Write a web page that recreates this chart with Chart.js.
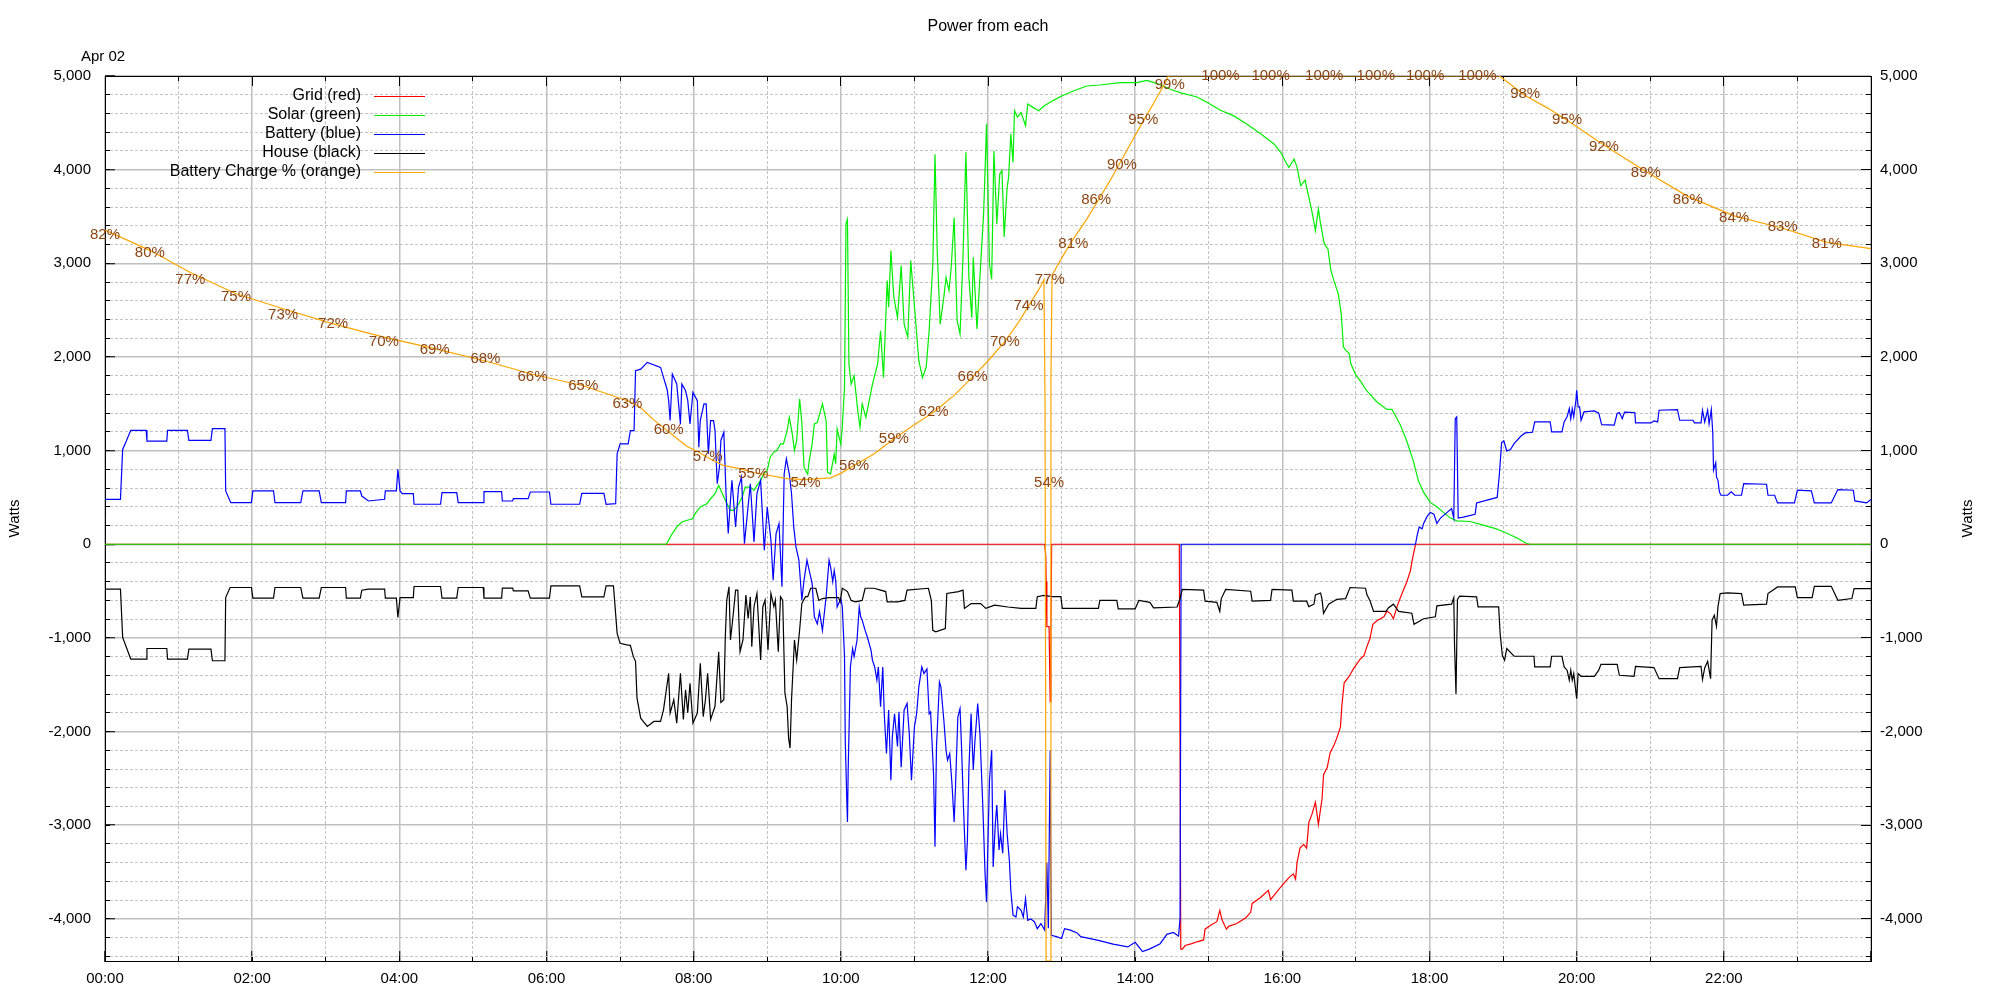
<!DOCTYPE html>
<html>
<head>
<meta charset="utf-8">
<title>Power from each</title>
<script src="https://cdn.jsdelivr.net/npm/chart.js@4.4.1/dist/chart.umd.min.js"></script>
<style>
  html, body { margin: 0; padding: 0; background: #fff; }
</style>
</head>
<body>
<canvas id="chart" width="2000" height="1000"></canvas>
<script>
// x values are hours since midnight (Apr 02), y values are watts
const gridPoints = [
  [0, 0], [12.77, 0], [12.785, -120], [12.79, -400], [12.80, -880], [12.83, -880], [12.845, -1680],
  [12.855, -900], [12.865, 0], [14.60, 0], [14.62, -4324], [14.64, -4324], [14.68, -4285], [14.77, -4265],
  [14.84, -4245], [14.93, -4225], [14.95, -4110], [15.02, -4070], [15.11, -4030], [15.15, -3910],
  [15.18, -4010], [15.24, -4110], [15.27, -4080], [15.38, -4050], [15.50, -3990], [15.57, -3930],
  [15.59, -3835], [15.70, -3775], [15.81, -3695], [15.84, -3795], [15.90, -3735], [16.0, -3640],
  [16.09, -3560], [16.15, -3520], [16.18, -3575], [16.20, -3400], [16.24, -3245], [16.29, -3205],
  [16.33, -3245], [16.36, -2970], [16.40, -2890], [16.45, -2755], [16.49, -2990], [16.54, -2715],
  [16.56, -2460], [16.61, -2385], [16.65, -2225], [16.70, -2150], [16.74, -2070], [16.79, -1950],
  [16.81, -1715], [16.84, -1480], [16.90, -1420], [16.97, -1325], [17.06, -1225], [17.11, -1190],
  [17.15, -1090], [17.19, -1010], [17.23, -855], [17.29, -815], [17.38, -775], [17.42, -715],
  [17.47, -740], [17.51, -795], [17.57, -640], [17.60, -580], [17.65, -480], [17.69, -405],
  [17.74, -285], [17.77, -150], [17.81, 0], [24, 0]
];

const solarPoints = [
  [0, 0], [7.62, 0], [7.64, 15], [7.71, 114], [7.77, 185], [7.84, 238], [7.91, 256], [7.98, 270],
  [8.02, 327], [8.09, 398], [8.18, 433], [8.23, 486], [8.29, 540], [8.34, 628], [8.39, 540], [8.43, 470],
  [8.50, 362], [8.54, 362], [8.59, 398], [8.66, 504], [8.70, 611], [8.77, 611], [8.82, 575], [8.86, 628],
  [8.91, 682], [8.95, 753], [9.0, 788], [9.04, 930], [9.09, 983], [9.13, 1001], [9.18, 1072], [9.22, 1072],
  [9.27, 1214], [9.30, 1356], [9.34, 1179], [9.37, 1001], [9.40, 1108], [9.44, 1551], [9.47, 1300],
  [9.50, 820], [9.55, 750], [9.57, 890], [9.61, 1070], [9.64, 1285], [9.68, 1300], [9.75, 1500],
  [9.80, 1320], [9.82, 770], [9.86, 750], [9.91, 960], [9.93, 860], [9.95, 1230], [10.0, 1070],
  [10.02, 1250], [10.05, 1675], [10.07, 3420], [10.09, 3470], [10.11, 1925], [10.14, 1710], [10.18, 1800],
  [10.23, 1425], [10.26, 1250], [10.29, 1500], [10.34, 1355], [10.39, 1550], [10.43, 1710], [10.50, 1925],
  [10.54, 2280], [10.58, 1780], [10.63, 2815], [10.65, 2530], [10.68, 3135], [10.72, 2640], [10.77, 2420],
  [10.82, 2975], [10.86, 2350], [10.91, 2210], [10.95, 3030], [11.02, 2350], [11.06, 1960], [11.11, 1780],
  [11.16, 1890], [11.20, 2280], [11.25, 2990], [11.28, 4165], [11.31, 3135], [11.35, 2350], [11.40, 2640],
  [11.43, 2850], [11.47, 2710], [11.50, 2955], [11.54, 3490], [11.58, 2390], [11.62, 2245], [11.66, 3065],
  [11.70, 4185], [11.74, 2850], [11.78, 2420], [11.80, 3065], [11.85, 2300], [11.89, 2850], [11.94, 3525],
  [11.96, 3990], [11.98, 4490], [12.02, 2990], [12.05, 2830], [12.08, 4200], [12.12, 3420], [12.16, 3955],
  [12.19, 3990], [12.22, 3280], [12.26, 3810], [12.28, 3920], [12.31, 4380], [12.34, 4080], [12.36, 4630],
  [12.40, 4560], [12.45, 4610], [12.51, 4470], [12.54, 4700], [12.61, 4665], [12.69, 4630], [12.76, 4680],
  [12.89, 4740], [13.0, 4787], [13.16, 4840], [13.34, 4893], [13.52, 4904], [13.80, 4930], [14.02, 4930],
  [14.16, 4954], [14.30, 4918], [14.48, 4858], [14.61, 4822], [14.84, 4776], [14.98, 4716], [15.16, 4634],
  [15.34, 4574], [15.52, 4485], [15.70, 4386], [15.89, 4272], [15.98, 4183], [16.05, 4077], [16.09, 4024],
  [16.16, 4112], [16.20, 4024], [16.25, 3829], [16.31, 3889], [16.34, 3775], [16.40, 3562], [16.45, 3349],
  [16.49, 3580], [16.52, 3420], [16.57, 3207], [16.62, 3154], [16.66, 2923], [16.70, 2817], [16.76, 2675],
  [16.80, 2462], [16.83, 2107], [16.86, 2072], [16.91, 2036], [16.93, 1929], [17.0, 1805], [17.07, 1734],
  [17.14, 1645], [17.29, 1517], [17.42, 1440], [17.49, 1440], [17.56, 1340], [17.60, 1280], [17.69, 1105],
  [17.78, 890], [17.85, 674], [17.92, 557], [18.01, 447], [18.10, 400], [18.19, 340], [18.28, 282],
  [18.37, 250], [18.55, 243], [18.73, 204], [18.91, 165], [19.05, 118], [19.19, 67], [19.32, 8],
  [19.37, 0], [24, 0]
];

const batteryPoints = [
  [0, 480], [0.21, 480], [0.24, 1013], [0.29, 1102], [0.35, 1216], [0.56, 1216], [0.57, 1102], [0.84, 1102],
  [0.85, 1216], [1.12, 1216], [1.14, 1109], [1.44, 1109], [1.46, 1234], [1.63, 1234], [1.64, 569],
  [1.71, 444], [1.99, 444], [2.01, 569], [2.29, 569], [2.31, 444], [2.66, 444], [2.69, 569], [2.91, 569],
  [2.94, 444], [3.27, 444], [3.28, 569], [3.47, 569], [3.49, 515], [3.58, 462], [3.80, 480], [3.81, 569],
  [3.96, 569], [3.98, 800], [4.01, 569], [4.04, 540], [4.19, 540], [4.20, 427], [4.56, 427], [4.58, 551],
  [4.78, 551], [4.80, 444], [5.14, 444], [5.15, 562], [5.39, 562], [5.40, 462], [5.54, 462], [5.55, 487],
  [5.75, 487], [5.78, 558], [6.04, 558], [6.06, 427], [6.45, 427], [6.48, 544], [6.78, 544], [6.81, 427],
  [6.94, 433], [6.96, 966], [7.0, 1072], [7.11, 1072], [7.14, 1214], [7.19, 1214], [7.21, 1853],
  [7.28, 1870], [7.37, 1942], [7.55, 1889], [7.59, 1782], [7.64, 1650], [7.66, 1534], [7.68, 1321],
  [7.71, 1818], [7.77, 1711], [7.82, 1285], [7.84, 1711], [7.89, 1640], [7.92, 1534], [7.95, 1285],
  [7.99, 1622], [8.05, 1534], [8.07, 1037], [8.09, 1321], [8.14, 1498], [8.17, 1498], [8.20, 966],
  [8.23, 1321], [8.27, 1321], [8.29, 1214], [8.32, 646], [8.35, 824], [8.37, 1108], [8.41, 1196],
  [8.44, 540], [8.47, 114], [8.50, 470], [8.52, 682], [8.57, 185], [8.61, 610], [8.65, 717], [8.69, 7],
  [8.73, 327], [8.77, 646], [8.82, 25], [8.86, 540], [8.91, 682], [8.96, -64], [9.0, 398], [9.05, 43],
  [9.08, -383], [9.12, 114], [9.16, 220], [9.20, -454], [9.23, 753], [9.26, 912], [9.30, 750], [9.33, 540],
  [9.36, 185], [9.39, -28], [9.43, -170], [9.47, -596], [9.50, -383], [9.54, -170], [9.57, -280],
  [9.61, -420], [9.64, -775], [9.68, -850], [9.71, -720], [9.75, -920], [9.80, -560], [9.84, -170],
  [9.86, -240], [9.89, -400], [9.91, -280], [9.93, -385], [9.95, -670], [10.0, -580], [10.02, -670],
  [10.05, -1200], [10.06, -2090], [10.08, -2700], [10.09, -2965], [10.10, -2410], [10.13, -1310],
  [10.16, -1115], [10.18, -1200], [10.22, -1025], [10.25, -670], [10.27, -775], [10.29, -810], [10.33, -920],
  [10.36, -990], [10.41, -1130], [10.43, -1240], [10.46, -1310], [10.49, -1450], [10.51, -1310],
  [10.54, -1735], [10.57, -1310], [10.59, -1810], [10.62, -2235], [10.65, -1770], [10.68, -2520],
  [10.70, -2055], [10.73, -1810], [10.77, -2160], [10.79, -1790], [10.82, -2380], [10.86, -1770],
  [10.90, -1700], [10.93, -2020], [10.96, -2520], [11.0, -1950], [11.03, -1810], [11.06, -1525],
  [11.10, -1310], [11.13, -1380], [11.17, -1330], [11.20, -1810], [11.22, -1790], [11.26, -2450],
  [11.28, -3230], [11.30, -2160], [11.34, -1470], [11.36, -1525], [11.40, -1880], [11.43, -2200],
  [11.45, -2305], [11.48, -2235], [11.51, -2555], [11.54, -2965], [11.56, -2555], [11.59, -1845],
  [11.62, -1755], [11.64, -2160], [11.67, -2875], [11.70, -3480], [11.72, -3160], [11.74, -2410],
  [11.77, -1810], [11.80, -2410], [11.82, -2130], [11.86, -1700], [11.89, -2020], [11.93, -2805],
  [11.96, -3515], [11.98, -3820], [12.02, -2520], [12.05, -2200], [12.07, -3445], [12.10, -2980],
  [12.12, -2785], [12.15, -3265], [12.17, -3090], [12.20, -3300], [12.23, -2625], [12.26, -3090],
  [12.29, -3375], [12.31, -3695], [12.34, -3960], [12.38, -3980], [12.40, -3870], [12.45, -3910],
  [12.48, -3980], [12.51, -3785], [12.54, -4015], [12.58, -4000], [12.63, -4030], [12.67, -4105],
  [12.72, -4050], [12.77, -4120], [12.80, -3400], [12.82, -4100], [12.845, -2200], [12.86, -4175],
  [12.93, -4190], [13.0, -4210], [13.04, -4105], [13.12, -4120], [13.21, -4150], [13.26, -4190],
  [13.5, -4230], [13.7, -4270], [13.9, -4300], [14.0, -4250], [14.1, -4350], [14.2, -4320], [14.34, -4265],
  [14.43, -4165], [14.52, -4145], [14.59, -4185], [14.61, -3990], [14.625, 0], [17.81, 0], [17.83, 86],
  [17.86, 184], [17.90, 165], [17.92, 223], [17.97, 300], [18.01, 340], [18.06, 320], [18.10, 223],
  [18.15, 280], [18.24, 340], [18.30, 380], [18.33, 280], [18.35, 1340], [18.37, 1360], [18.39, 280],
  [18.46, 290], [18.62, 320], [18.64, 440], [18.82, 480], [18.92, 500], [18.95, 750], [18.98, 1085],
  [19.01, 1105], [19.05, 997], [19.10, 1011], [19.15, 1075], [19.24, 1153], [19.30, 1189], [19.40, 1196],
  [19.43, 1307], [19.64, 1307], [19.66, 1200], [19.80, 1200], [19.83, 1307], [19.87, 1360], [19.90, 1449],
  [19.92, 1340], [19.94, 1449], [19.96, 1360], [19.99, 1538], [20.0, 1645], [20.02, 1467], [20.04, 1467],
  [20.06, 1324], [20.10, 1413], [20.24, 1424], [20.30, 1400], [20.34, 1278], [20.51, 1271], [20.55, 1396],
  [20.58, 1406], [20.62, 1340], [20.65, 1410], [20.79, 1406], [20.80, 1296], [21.01, 1296], [21.05, 1317],
  [21.10, 1306], [21.12, 1431], [21.37, 1438], [21.40, 1324], [21.58, 1324], [21.60, 1296], [21.69, 1296],
  [21.71, 1431], [21.74, 1306], [21.78, 1431], [21.80, 1285], [21.83, 1438], [21.85, 1182], [21.86, 790],
  [21.89, 869], [21.90, 719], [21.92, 683], [21.94, 559], [21.96, 523], [22.05, 523], [22.10, 559],
  [22.15, 523], [22.24, 523], [22.27, 648], [22.58, 641], [22.60, 523], [22.69, 523], [22.73, 441],
  [22.96, 441], [23.0, 577], [23.19, 570], [23.23, 441], [23.46, 441], [23.50, 505], [23.55, 584],
  [23.76, 577], [23.78, 463], [23.94, 441], [24.0, 477]
];

const housePoints = [
  [0, -480], [0.21, -480], [0.24, -995], [0.29, -1100], [0.35, -1226], [0.56, -1226], [0.57, -1113],
  [0.84, -1113], [0.85, -1226], [1.12, -1226], [1.14, -1120], [1.44, -1120], [1.46, -1244], [1.63, -1244],
  [1.64, -569], [1.70, -462], [1.99, -462], [2.01, -576], [2.29, -576], [2.31, -462], [2.66, -462],
  [2.69, -576], [2.91, -576], [2.94, -462], [3.27, -462], [3.28, -576], [3.47, -576], [3.49, -491],
  [3.58, -480], [3.80, -480], [3.81, -576], [3.96, -576], [3.98, -782], [4.01, -569], [4.19, -569],
  [4.20, -451], [4.56, -451], [4.58, -576], [4.78, -576], [4.80, -462], [5.14, -462], [5.15, -576],
  [5.39, -576], [5.40, -469], [5.54, -469], [5.55, -498], [5.75, -498], [5.78, -576], [6.04, -576],
  [6.06, -444], [6.45, -444], [6.48, -562], [6.78, -562], [6.81, -444], [6.91, -444], [6.96, -951],
  [7.0, -1058], [7.09, -1075], [7.14, -1080], [7.18, -1200], [7.21, -1250], [7.23, -1643], [7.28, -1857],
  [7.37, -1945], [7.46, -1892], [7.55, -1892], [7.59, -1768], [7.66, -1377], [7.68, -1803], [7.73, -1661],
  [7.77, -1910], [7.82, -1377], [7.86, -1870], [7.89, -1555], [7.92, -1800], [7.95, -1484], [7.99, -1910],
  [8.05, -1803], [8.09, -1271], [8.13, -1840], [8.16, -1661], [8.19, -1377], [8.23, -1870], [8.29, -1730],
  [8.34, -1147], [8.37, -1690], [8.41, -1661], [8.43, -987], [8.45, -596], [8.48, -454], [8.50, -1022],
  [8.53, -809], [8.57, -490], [8.60, -490], [8.63, -1147], [8.67, -1022], [8.71, -543], [8.74, -792],
  [8.77, -560], [8.79, -1094], [8.82, -667], [8.86, -525], [8.91, -1235], [8.94, -667], [8.97, -596],
  [9.01, -1129], [9.05, -525], [9.09, -667], [9.11, -596], [9.15, -1147], [9.18, -560], [9.21, -596],
  [9.24, -1590], [9.27, -1730], [9.29, -2070], [9.31, -2176], [9.33, -1661], [9.37, -1022], [9.40, -1235],
  [9.44, -916], [9.47, -632], [9.52, -560], [9.55, -560], [9.59, -470], [9.66, -470], [9.70, -600],
  [9.75, -580], [9.84, -570], [9.97, -570], [9.99, -615], [10.02, -470], [10.09, -505], [10.14, -600],
  [10.20, -615], [10.29, -600], [10.33, -470], [10.45, -470], [10.54, -490], [10.61, -505], [10.63, -615],
  [10.77, -615], [10.87, -600], [10.90, -490], [11.19, -470], [11.23, -600], [11.25, -920], [11.29, -935],
  [11.42, -900], [11.44, -525], [11.60, -505], [11.66, -490], [11.68, -685], [11.77, -633], [11.90, -633],
  [11.97, -685], [12.09, -650], [12.27, -670], [12.45, -685], [12.65, -685], [12.67, -560], [12.76, -545],
  [12.87, -560], [12.99, -560], [13.01, -685], [13.24, -685], [13.50, -685], [13.52, -600], [13.75, -600],
  [13.77, -690], [14.0, -690], [14.05, -600], [14.20, -620], [14.25, -680], [14.57, -670], [14.61, -580],
  [14.64, -482], [14.93, -490], [14.95, -608], [15.11, -620], [15.15, -717], [15.17, -580], [15.23, -482],
  [15.57, -502], [15.59, -608], [15.84, -600], [15.86, -482], [16.13, -490], [16.15, -608], [16.33, -608],
  [16.36, -666], [16.43, -640], [16.45, -540], [16.52, -520], [16.54, -588], [16.56, -737], [16.63, -640],
  [16.74, -588], [16.86, -580], [16.92, -462], [17.13, -470], [17.15, -540], [17.19, -600], [17.24, -717],
  [17.41, -717], [17.44, -680], [17.51, -640], [17.58, -717], [17.76, -737], [17.79, -855], [17.92, -795],
  [18.08, -775], [18.10, -658], [18.30, -640], [18.33, -570], [18.34, -1070], [18.36, -1600], [18.38, -590],
  [18.41, -553], [18.57, -560], [18.64, -562], [18.66, -669], [18.94, -669], [18.96, -954], [18.99, -1185],
  [19.02, -1239], [19.05, -1114], [19.15, -1196], [19.42, -1196], [19.43, -1310], [19.64, -1310],
  [19.66, -1196], [19.80, -1196], [19.83, -1310], [19.87, -1345], [19.90, -1452], [19.92, -1345],
  [19.94, -1452], [19.96, -1381], [20.0, -1648], [20.02, -1381], [20.06, -1410], [20.24, -1410],
  [20.30, -1345], [20.33, -1282], [20.55, -1282], [20.58, -1399], [20.78, -1410], [20.80, -1303],
  [21.05, -1317], [21.12, -1435], [21.37, -1435], [21.40, -1317], [21.69, -1303], [21.71, -1445],
  [21.74, -1321], [21.78, -1250], [21.82, -1435], [21.84, -812], [21.87, -758], [21.90, -876],
  [21.92, -669], [21.95, -527], [22.05, -520], [22.24, -527], [22.27, -651], [22.58, -640], [22.60, -527],
  [22.73, -456], [22.97, -456], [23.0, -570], [23.2, -570], [23.23, -449], [23.46, -449], [23.55, -598],
  [23.74, -580], [23.77, -473], [24.0, -473]
];

// battery state of charge, percent (drawn against a hidden 0..100 axis)
const chargePoints = [
  [0, 82.6], [0.61, 80.3], [1.16, 77.8], [1.78, 75.4], [2.42, 73.7], [3.10, 72.0], [3.79, 70.5],
  [4.48, 69.2], [5.17, 67.8], [5.81, 66.3], [6.50, 65.0], [7.10, 63.3], [7.27, 62.6], [7.45, 61.2],
  [7.66, 59.8], [7.90, 58.2], [8.09, 57.4], [8.19, 56.9], [8.40, 56.0], [8.64, 55.6], [8.81, 55.2],
  [9.27, 54.5], [9.52, 54.4], [9.86, 54.6], [10.0, 55.1], [10.18, 56.0], [10.45, 57.3], [10.72, 59.0],
  [11.0, 60.6], [11.26, 62.0], [11.55, 64.0], [11.79, 66.0], [12.0, 67.8], [12.23, 70.0], [12.40, 72.0],
  [12.55, 74.0], [12.70, 76.0], [12.76, 77.0], [12.775, 63], [12.79, 0], [12.845, 0], [12.855, 65],
  [12.87, 77.5], [13.02, 79.7], [13.16, 81.6], [13.34, 83.8], [13.48, 85.7], [13.66, 88.2], [13.82, 90.6],
  [13.98, 93.0], [14.11, 94.9], [14.27, 97.2], [14.42, 99.4], [14.45, 100], [18.95, 100], [19.30, 97.8],
  [19.6, 96.4], [19.87, 95.0], [20.37, 92.2], [20.94, 89.2], [21.51, 86.4], [22.14, 84.2], [22.80, 82.8],
  [23.40, 81.2], [24.0, 80.5]
];

const chargeLabelHours = [
  0.0, 0.61, 1.16, 1.78, 2.42, 3.10, 3.79, 4.48, 5.17, 5.81, 6.50, 7.10, 7.66, 8.19, 8.81, 9.52,
  10.18, 10.72, 11.26, 11.79, 12.23, 12.55, 12.84, 12.83, 13.16, 13.47, 13.82, 14.11, 14.47,
  15.16, 15.84, 16.57, 17.27, 17.94, 18.65, 19.30, 19.87, 20.37, 20.94, 21.51, 22.14, 22.80, 23.40
];
const chargeLabelValues = [
  82, 80, 77, 75, 73, 72, 70, 69, 68, 66, 65, 63, 60, 57, 55, 54,
  56, 59, 62, 66, 70, 74, 77, 54, 81, 86, 90, 95, 99,
  100, 100, 100, 100, 100, 100, 98, 95, 92, 89, 86, 84, 83, 81
];

// labelled watt ticks on both sides
const wattTicks = [-4000, -3000, -2000, -1000, 0, 1000, 2000, 3000, 4000, 5000];

const FONT = '"Liberation Sans", Arial, sans-serif';
const gridGray = '#c0c0c0';
const dotGray = '#c4c4c4';
const labelBrown = '#8b4513';

Chart.defaults.font.family = FONT;
Chart.defaults.font.size = 15;
Chart.defaults.color = '#000';

// fixed axis sizes so the plot box lands where gnuplot put it
const sized = px => scale => {
  if (scale.isHorizontal()) scale.height = px;
  else scale.width = px;
};
const useWattTicks = scale => { scale.ticks = wattTicks.map(value => ({ value })); };
const hhmm = v => (v < 24 ? String(v).padStart(2, '0') + ':00' : '');
const watts = v => v.toLocaleString('en-US');

const hourAxis = (position, step, tick, extra) => Object.assign({
  type: 'linear', position, min: 0, max: 24, weight: 0, afterFit: sized(0),
  ticks: { display: false, stepSize: step, autoSkip: false, maxRotation: 0, includeBounds: false },
  grid: { drawOnChartArea: false, tickLength: tick, tickColor: '#000', tickWidth: 1 },
  border: { display: false }
}, extra);

const wattAxis = (position, step, tick, extra) => Object.assign({
  type: 'linear', position, min: -4450, max: 5000, weight: 0, afterFit: sized(0),
  ticks: { display: false, stepSize: step, includeBounds: false, maxTicksLimit: 100 },
  grid: { drawOnChartArea: false, tickLength: tick, tickColor: '#000', tickWidth: 1 },
  border: { display: false }
}, extra);

const scales = {
  x: hourAxis('bottom', 2, -10, {
    weight: 1, afterFit: sized(39),
    ticks: { stepSize: 2, autoSkip: false, maxRotation: 0, includeBounds: false, padding: 19, callback: hhmm },
    grid: { color: gridGray, lineWidth: 1.5, tickLength: -10, tickColor: '#000', tickWidth: 1, z: -2 },
    border: { color: '#000', width: 1 }
  }),
  xMinor: hourAxis('bottom', 1, -5, {
    grid: {
      color: c => (c.tick.value % 2 ? dotGray : 'rgba(0,0,0,0)'),
      lineWidth: 1, tickLength: -5, tickColor: '#000', tickWidth: 1
    },
    border: { display: false, dash: [3, 2] }
  }),
  xTop: hourAxis('top', 2, -10, { border: { color: '#000', width: 1 } }),
  xTopMinor: hourAxis('top', 1, -5),
  y: wattAxis('left', 1000, -10, {
    weight: 1, afterFit: sized(105), afterBuildTicks: useWattTicks,
    ticks: { padding: 24, callback: watts },
    grid: { color: gridGray, lineWidth: 1.5, tickLength: -10, tickColor: '#000', tickWidth: 1, z: -2 },
    border: { color: '#000', width: 1 }
  }),
  yMinor: wattAxis('left', 200, -5, {
    grid: {
      color: c => (c.tick.value % 1000 ? dotGray : 'rgba(0,0,0,0)'),
      lineWidth: 1, tickLength: -5, tickColor: '#000', tickWidth: 1
    },
    border: { display: false, dash: [3, 2] }
  }),
  yRight: wattAxis('right', 1000, -10, {
    weight: 1, afterFit: sized(129), afterBuildTicks: useWattTicks,
    ticks: { padding: 19, callback: watts },
    border: { color: '#000', width: 1 }
  }),
  yRightMinor: wattAxis('right', 200, -5),
  yCharge: { type: 'linear', display: false, min: 0, max: 100 }
};

const line = (label, data, color, order, yAxisID = 'y') => ({
  label, data, borderColor: color, backgroundColor: color, borderWidth: 1.2,
  pointRadius: 0, tension: 0, fill: false, order, xAxisID: 'x', yAxisID
});

// titles, legend and the charge % labels, drawn the gnuplot way
const gnuplotText = {
  id: 'gnuplotText',
  afterDatasetsDraw(chart) {
    const { ctx, scales: s } = chart;
    ctx.save();
    ctx.font = `15px ${FONT}`;
    ctx.fillStyle = labelBrown;
    ctx.textAlign = 'center';
    ctx.textBaseline = 'middle';
    chargeLabelHours.forEach((h, i) => {
      const v = chargeLabelValues[i];
      ctx.fillText(v + '%', s.x.getPixelForValue(h), s.yCharge.getPixelForValue(v));
    });
    ctx.restore();
  },
  afterDraw(chart) {
    const { ctx, chartArea: a } = chart;
    ctx.save();
    ctx.fillStyle = '#000';
    ctx.textBaseline = 'middle';
    ctx.textAlign = 'center';
    ctx.font = `16px ${FONT}`;
    ctx.fillText('Power from each', (a.left + a.right) / 2, 27);
    ctx.font = `15px ${FONT}`;
    ctx.fillText('Apr 02', a.left - 2, 57);

    const midY = (a.top + a.bottom) / 2;
    [15, 1968].forEach(x => {
      ctx.save();
      ctx.translate(x, midY);
      ctx.rotate(-Math.PI / 2);
      ctx.fillText('Watts', 0, 0);
      ctx.restore();
    });

    // legend: right aligned text, then a short line sample
    ctx.font = `16px ${FONT}`;
    ctx.textAlign = 'right';
    chart.data.datasets.forEach((ds, i) => {
      const y = 96 + i * 19;
      ctx.fillStyle = '#000';
      ctx.fillText(ds.label, 361, y);
      ctx.strokeStyle = ds.borderColor;
      ctx.lineWidth = 1;
      ctx.beginPath();
      ctx.moveTo(374, y + 0.5);
      ctx.lineTo(425, y + 0.5);
      ctx.stroke();
    });
    ctx.restore();
  }
};

new Chart(document.getElementById('chart'), {
  type: 'line',
  data: {
    datasets: [
      line('Grid (red)', gridPoints, '#ff0000', 5),
      line('Solar (green)', solarPoints, '#00ee00', 4),
      line('Battery (blue)', batteryPoints, '#0000ff', 3),
      line('House (black)', housePoints, '#000000', 2),
      line('Battery Charge % (orange)', chargePoints, '#ffa500', 1, 'yCharge')
    ]
  },
  options: {
    responsive: false,
    animation: false,
    devicePixelRatio: 1,
    layout: { padding: { left: 0, top: 76, right: 0, bottom: 0 } },
    plugins: { legend: { display: false }, title: { display: false }, tooltip: { enabled: false } },
    scales
  },
  plugins: [gnuplotText]
});
</script>
</body>
</html>
